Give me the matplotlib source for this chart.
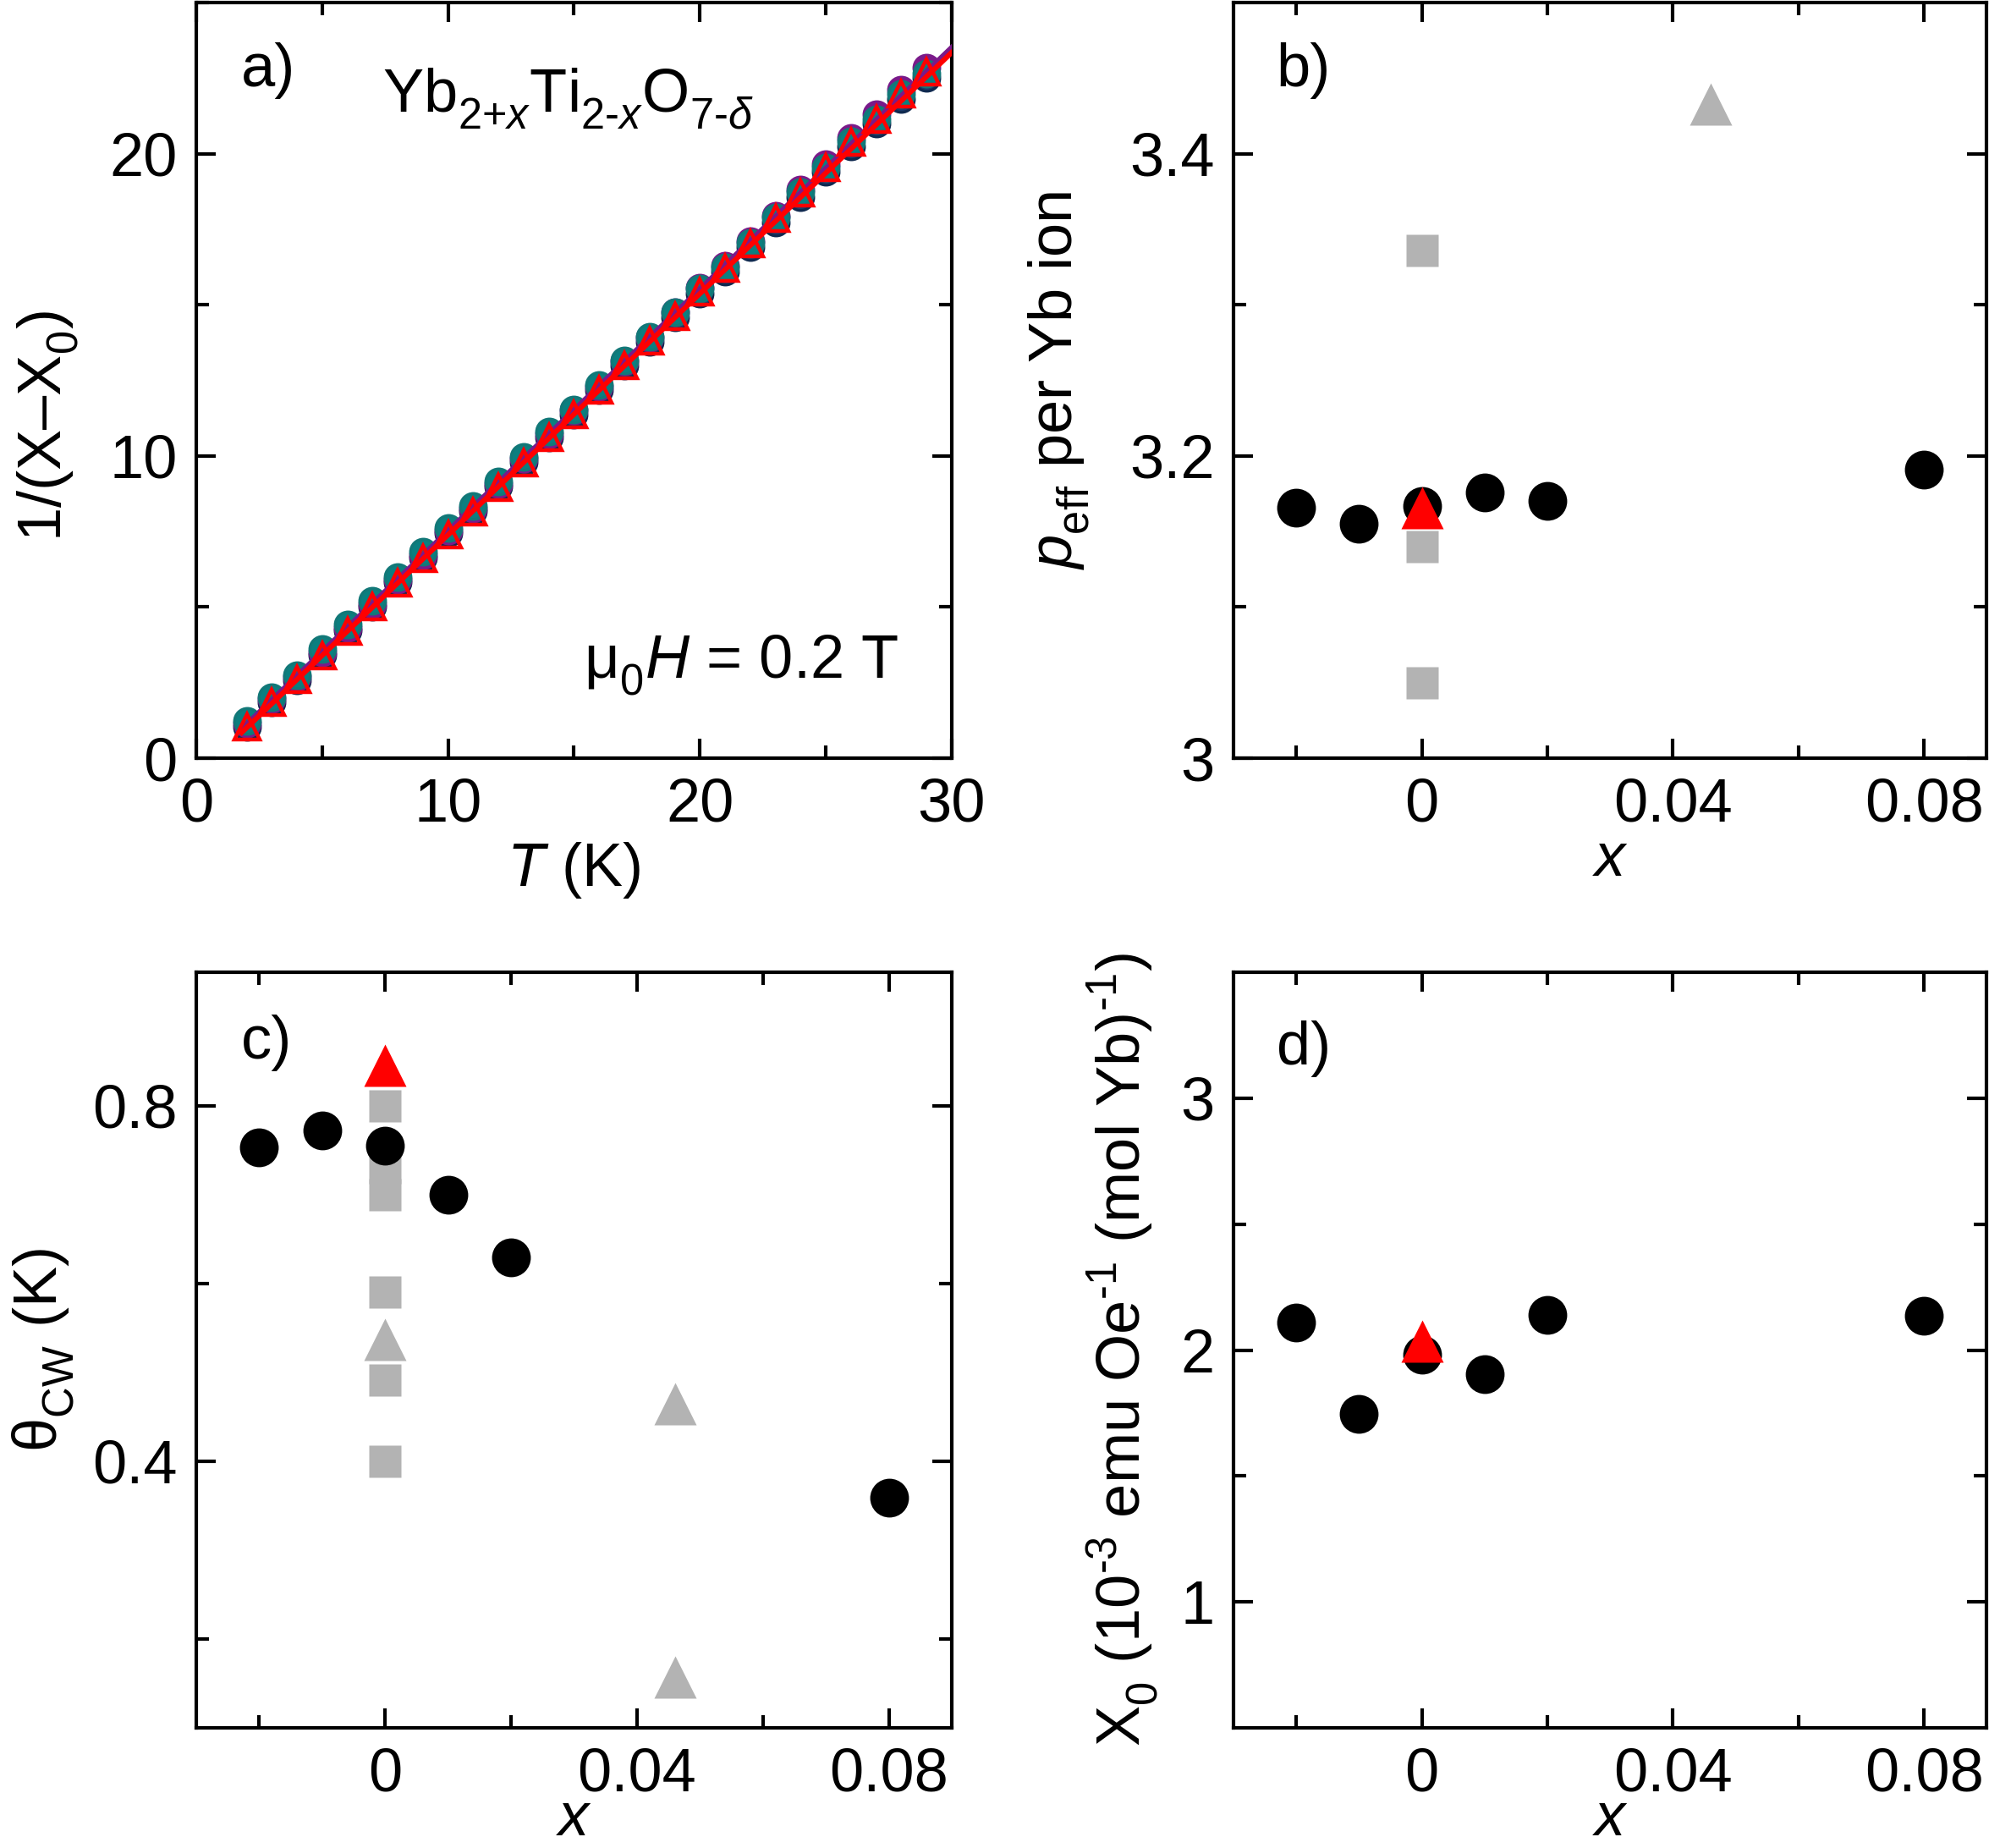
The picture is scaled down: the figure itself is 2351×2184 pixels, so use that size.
import matplotlib
matplotlib.use("Agg")
import matplotlib.pyplot as plt
from matplotlib import _mathtext
from matplotlib.ticker import MultipleLocator, FixedLocator

plt.rcParams['font.family'] = ['Liberation Sans', 'DejaVu Sans']
plt.rcParams['font.size'] = 26
plt.rcParams['mathtext.fontset'] = 'custom'
plt.rcParams['mathtext.rm'] = 'Liberation Sans'
plt.rcParams['mathtext.it'] = 'Liberation Sans:italic'
plt.rcParams['mathtext.bf'] = 'Liberation Sans:bold'
# subscripts sit lower in the original figure
_mathtext.FontConstantsBase.sub1 = 0.55

# --- panel a: inverse susceptibility vs T ---
T_a = [2, 3, 4, 5, 6, 7, 8, 9, 10, 11, 12, 13, 14, 15, 16, 17, 18, 19, 20,
       21, 22, 23, 24, 25, 26, 27, 28, 29]
inv_teal = [1.23, 2.03, 2.75, 3.6, 4.42, 5.2, 6.0, 6.82, 7.62, 8.35, 9.15, 9.97,
            10.8, 11.55, 12.35, 13.15, 13.93, 14.75, 15.55, 16.25, 17.05, 17.88,
            18.72, 19.55, 20.4, 21.15, 21.98, 22.65]
inv_purple = [1.15, 1.95, 2.68, 3.5, 4.32, 5.1, 5.9, 6.72, 7.52, 8.27, 9.07, 9.9,
              10.72, 11.5, 12.3, 13.12, 13.92, 14.75, 15.58, 16.3, 17.12, 17.96,
              18.82, 19.66, 20.52, 21.3, 22.12, 22.85]
inv_navy = [1.05, 1.85, 2.58, 3.42, 4.24, 5.02, 5.82, 6.64, 7.44, 8.18, 8.98, 9.8,
            10.62, 11.38, 12.18, 12.98, 13.77, 14.58, 15.38, 16.1, 16.9, 17.72,
            18.56, 19.4, 20.24, 21.0, 21.82, 22.5]
inv_red = [1.05, 1.85, 2.6, 3.4, 4.2, 5.0, 5.8, 6.6, 7.4, 8.15, 8.95, 9.78,
           10.6, 11.38, 12.18, 13.0, 13.8, 14.62, 15.44, 16.2, 17.02, 17.85,
           18.7, 19.53, 20.37, 21.15, 21.98, 22.7]
fit_T = [1.8, 30.0]
fit_red = [0.85, 23.35]
fit_purple = [0.95, 23.5]

# --- panels b-d: fit parameters vs x ---
x_bulk = [-0.02, -0.01, 0.0, 0.01, 0.02, 0.08]
peff_bulk = [3.166, 3.155, 3.167, 3.176, 3.170, 3.191]
theta_bulk = [0.753, 0.772, 0.755, 0.700, 0.629, 0.359]
chi0_bulk = [2.11, 1.746, 1.98, 1.906, 2.138, 2.136]

x_red = [0.0]
peff_red = [3.166]
theta_red = [0.845]
chi0_red = [2.037]

x_sq_b = [0.0, 0.0, 0.0]
peff_sq = [3.336, 3.140, 3.050]
x_tri_b = [0.046]
peff_tri = [3.433]

x_sq_c = [0.0, 0.0, 0.0, 0.0, 0.0, 0.0]
theta_sq = [0.80, 0.73, 0.70, 0.59, 0.491, 0.40]
x_tri_c = [0.0, 0.046, 0.046]
theta_tri = [0.537, 0.465, 0.157]

GRAY = '#b3b3b3'

fig = plt.figure(figsize=(2351 / 200, 2184 / 200), dpi=200)
ax_a = fig.add_axes([0.0987, 0.5897, 0.3798, 0.4089])
ax_b = fig.add_axes([0.6202, 0.5897, 0.3786, 0.4089])
ax_c = fig.add_axes([0.0987, 0.0650, 0.3798, 0.4089])
ax_d = fig.add_axes([0.6202, 0.0650, 0.3786, 0.4089])


def style(ax):
    for s in ax.spines.values():
        s.set_linewidth(1.5)
    ax.tick_params(which='both', direction='in', top=True, right=True, width=1.5)
    ax.tick_params(which='major', length=8.3, pad=8)
    ax.tick_params(which='minor', length=5.4)


def place_labels(ax, xl, yl):
    ax.xaxis.label.set_va('center')
    ax.xaxis.set_label_coords(0.5, xl)
    ax.yaxis.label.set_va('center')
    ax.yaxis.set_label_coords(yl[0], yl[1])


# panel a
ax_a.plot(T_a, inv_navy, 'o', ms=11, mfc='#1c3c6c', mec='#102a50', mew=1.2, zorder=2)
ax_a.plot(T_a, inv_purple, 'o', ms=11, mfc='#7a1a8a', mec='#7a1a8a', mew=1.2, zorder=3)
ax_a.plot(T_a, inv_teal, 'o', ms=11, mfc='#0b7f80', mec='#127878', mew=1.2, zorder=4)
ax_a.plot(fit_T, fit_purple, '-', color='#7a1a8a', lw=2.5, zorder=5)
ax_a.plot(fit_T, fit_red, '-', color='#ff0000', lw=2.2, zorder=6)
ax_a.plot(T_a, inv_red, '^', ms=10.5, mfc='none', mec='#ff0000', mew=1.6, zorder=7)
ax_a.set_xlim(0, 30)
ax_a.set_ylim(0, 25)
ax_a.xaxis.set_major_locator(MultipleLocator(10))
ax_a.xaxis.set_minor_locator(MultipleLocator(5))
ax_a.yaxis.set_major_locator(MultipleLocator(10))
ax_a.yaxis.set_minor_locator(MultipleLocator(5))
style(ax_a)
ax_a.set_xlabel('$T$ (K)')
ax_a.set_ylabel('1/(X\u2013X$_0$)')
place_labels(ax_a, -0.148, (-0.196, 0.44))
ax_a.text(0.059, 0.91, 'a)', transform=ax_a.transAxes, ha='left', va='center')
ax_a.text(0.246, 0.855, r'Yb$_{\text{2+}x}$Ti$_{\text{2-}x}$O$_{\text{7-}\delta}$',
          transform=ax_a.transAxes, ha='left', va='baseline')
ax_a.text(0.513, 0.106, 'μ$_0$$H$ = 0.2 T', transform=ax_a.transAxes,
          ha='left', va='baseline')


def style_x(ax):
    ax.set_xlim(-0.03, 0.09)
    ax.xaxis.set_major_locator(FixedLocator([0, 0.04, 0.08]))
    ax.xaxis.set_minor_locator(FixedLocator([-0.02, 0.02, 0.06]))
    ax.set_xticklabels(['0', '0.04', '0.08'])
    ax.set_xlabel('$x$')


# panel b
ax_b.plot(x_sq_b, peff_sq, 's', ms=14, color=GRAY, mec='none', zorder=2)
ax_b.plot(x_tri_b, peff_tri, '^', ms=18, color=GRAY, mec='none', zorder=2)
ax_b.plot(x_bulk, peff_bulk, 'o', ms=16.5, color='black', mec='none', zorder=3)
ax_b.plot(x_red, peff_red, '^', ms=18, color='#ff0000', mec='none', zorder=4)
style_x(ax_b)
ax_b.set_ylim(3.0, 3.5)
ax_b.yaxis.set_major_locator(FixedLocator([3.0, 3.2, 3.4]))
ax_b.yaxis.set_minor_locator(FixedLocator([3.1, 3.3]))
ax_b.set_yticklabels(['3', '3.2', '3.4'])
style(ax_b)
ax_b.set_ylabel(r'$p_\mathrm{eff}$ per Yb ion')
place_labels(ax_b, -0.135, (-0.231, 0.5))
ax_b.text(0.057, 0.91, 'b)', transform=ax_b.transAxes, ha='left', va='center')

# panel c
ax_c.plot(x_sq_c, theta_sq, 's', ms=14, color=GRAY, mec='none', zorder=2)
ax_c.plot(x_tri_c, theta_tri, '^', ms=18, color=GRAY, mec='none', zorder=2)
ax_c.plot(x_bulk, theta_bulk, 'o', ms=16.5, color='black', mec='none', zorder=3)
ax_c.plot(x_red, theta_red, '^', ms=18, color='#ff0000', mec='none', zorder=4)
style_x(ax_c)
ax_c.set_ylim(0.1, 0.95)
ax_c.yaxis.set_major_locator(FixedLocator([0.4, 0.8]))
ax_c.yaxis.set_minor_locator(FixedLocator([0.2, 0.6]))
ax_c.set_yticklabels(['0.4', '0.8'])
style(ax_c)
ax_c.set_ylabel(r'θ$_\mathrm{CW}$ (K)')
place_labels(ax_c, -0.122, (-0.2016, 0.5))
ax_c.text(0.059, 0.906, 'c)', transform=ax_c.transAxes, ha='left', va='center')

# panel d
ax_d.plot(x_bulk, chi0_bulk, 'o', ms=16.5, color='black', mec='none', zorder=3)
ax_d.plot(x_red, chi0_red, '^', ms=18, color='#ff0000', mec='none', zorder=4)
style_x(ax_d)
ax_d.set_ylim(0.5, 3.5)
ax_d.yaxis.set_major_locator(FixedLocator([1, 2, 3]))
ax_d.yaxis.set_minor_locator(FixedLocator([1.5, 2.5]))
ax_d.set_yticklabels(['1', '2', '3'])
style(ax_d)
ax_d.set_ylabel('X$_0$ (10$^{\\text{-3}}$ emu Oe$^{\\text{-1}}$ (mol Yb)$^{\\text{-1}}$)')
place_labels(ax_d, -0.122, (-0.147, 0.5))
ax_d.text(0.057, 0.899, 'd)', transform=ax_d.transAxes, ha='left', va='center')

fig.savefig('out.png', dpi=200)
